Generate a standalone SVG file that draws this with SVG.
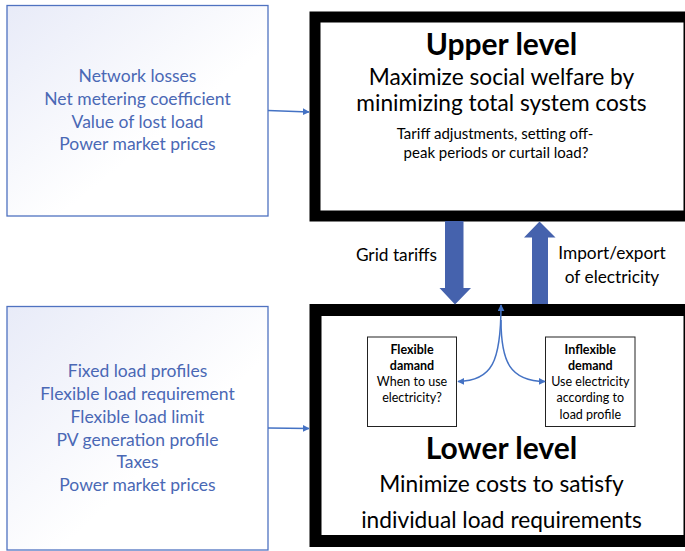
<svg xmlns="http://www.w3.org/2000/svg" width="685" height="551" viewBox="0 0 685 551">
<defs>
<linearGradient id="lav" x1="0" y1="0" x2="1" y2="1">
<stop offset="0" stop-color="#e8ebf8"/>
<stop offset="0.6" stop-color="#ffffff"/>
</linearGradient>
<marker id="ah" viewBox="0 0 10 10" refX="9" refY="5" markerWidth="7" markerHeight="7" markerUnits="userSpaceOnUse" orient="auto-start-reverse">
<path d="M0,0 L10,5 L0,10 z" fill="#4472c4"/>
</marker>
</defs>
<style>
.inbox{fill:url(#lav);stroke:#4f72c0;stroke-width:1.3}
.blue{font-family:Lato,"Liberation Sans",sans-serif;font-size:17.5px;fill:#4a68b5;text-anchor:middle}
.lvl{fill:#fff;stroke:#000}
.t{font-family:Lato,"Liberation Sans",sans-serif;fill:#000;text-anchor:middle}
.title{font-size:30px;font-weight:bold}
.sub{font-size:22.7px}
.note{font-size:15px}
.lbl{font-size:17.3px}
.small{font-size:12.5px}
.sb{font-size:12.5px;font-weight:bold}
.sbox{fill:#fff;stroke:#222;stroke-width:1}
.conn{fill:none;stroke:#4472c4;stroke-width:1.5}
.block{fill:#4562ad}
</style>

<g id="upper-inputs">
<rect class="inbox" x="7" y="5.5" width="261" height="210.5"/>
<text class="blue" x="137.5" y="82">Network losses</text>
<text class="blue" x="137.5" y="105">Net metering coefficient</text>
<text class="blue" x="137.5" y="127.5">Value of lost load</text>
<text class="blue" x="137.5" y="150">Power market prices</text>
</g>

<g id="lower-inputs">
<rect class="inbox" x="7" y="306.5" width="261" height="243.5"/>
<text class="blue" x="137.5" y="377">Fixed load profiles</text>
<text class="blue" x="137.5" y="400">Flexible load requirement</text>
<text class="blue" x="137.5" y="422.5">Flexible load limit</text>
<text class="blue" x="137.5" y="445.5">PV generation profile</text>
<text class="blue" x="137.5" y="468">Taxes</text>
<text class="blue" x="137.5" y="491">Power market prices</text>
</g>

<g id="upper-level">
<rect class="lvl" x="315" y="17" width="374" height="199" stroke-width="11"/>
<text class="t title" x="501.5" y="55">Upper level</text>
<text class="t sub" x="501.5" y="85">Maximize social welfare by</text>
<text class="t sub" x="501.5" y="111">minimizing total system costs</text>
<text class="t note" x="495" y="139">Tariff adjustments, setting off-</text>
<text class="t note" x="496" y="158">peak periods or curtail load?</text>
</g>

<g id="lower-level">
<rect class="lvl" x="315.5" y="310" width="374" height="231" stroke-width="12"/>
<text class="t title" x="501.5" y="459">Lower level</text>
<text class="t sub" x="501.5" y="492">Minimize costs to satisfy</text>
<text class="t sub" x="501.5" y="528">individual load requirements</text>
</g>

<g id="flexible-demand">
<rect class="sbox" x="367.5" y="337" width="89" height="89.5"/>
<text class="t sb" x="412" y="353.5">Flexible</text>
<text class="t sb" x="412" y="369.5">damand</text>
<text class="t small" x="412" y="386">When to use</text>
<text class="t small" x="412" y="402">electricity?</text>
</g>

<g id="inflexible-demand">
<rect class="sbox" x="545.5" y="337" width="89.5" height="89.5"/>
<text class="t sb" x="590.3" y="353.5">Inflexible</text>
<text class="t sb" x="590.3" y="369.5">demand</text>
<text class="t small" x="590.3" y="386">Use electricity</text>
<text class="t small" x="590.3" y="402">according to</text>
<text class="t small" x="590.3" y="418.5">load profile</text>
</g>

<g id="connectors">
<line class="conn" x1="268" y1="110.5" x2="309" y2="112" marker-end="url(#ah)"/>
<line class="conn" x1="268" y1="428" x2="309" y2="428.5" marker-end="url(#ah)"/>
<path class="conn" d="M501,305 C501,362 492,381 458,381.5" marker-start="url(#ah)" marker-end="url(#ah)"/>
<path class="conn" d="M501,320 C501,362 510,381 545,381.5" marker-end="url(#ah)"/>
<polygon class="block" points="445,221 463.5,221 463.5,288 471,288 455,304.5 439.5,288 445,288"/>
<polygon class="block" points="532,304 548,304 548,237.5 555.5,237.5 539.5,221.5 524,237.5 532,237.5"/>
<text class="t lbl" x="396.5" y="261">Grid tariffs</text>
<text class="t lbl" x="612" y="259">Import/export</text>
<text class="t lbl" x="612" y="282.5">of electricity</text>
</g>
</svg>
